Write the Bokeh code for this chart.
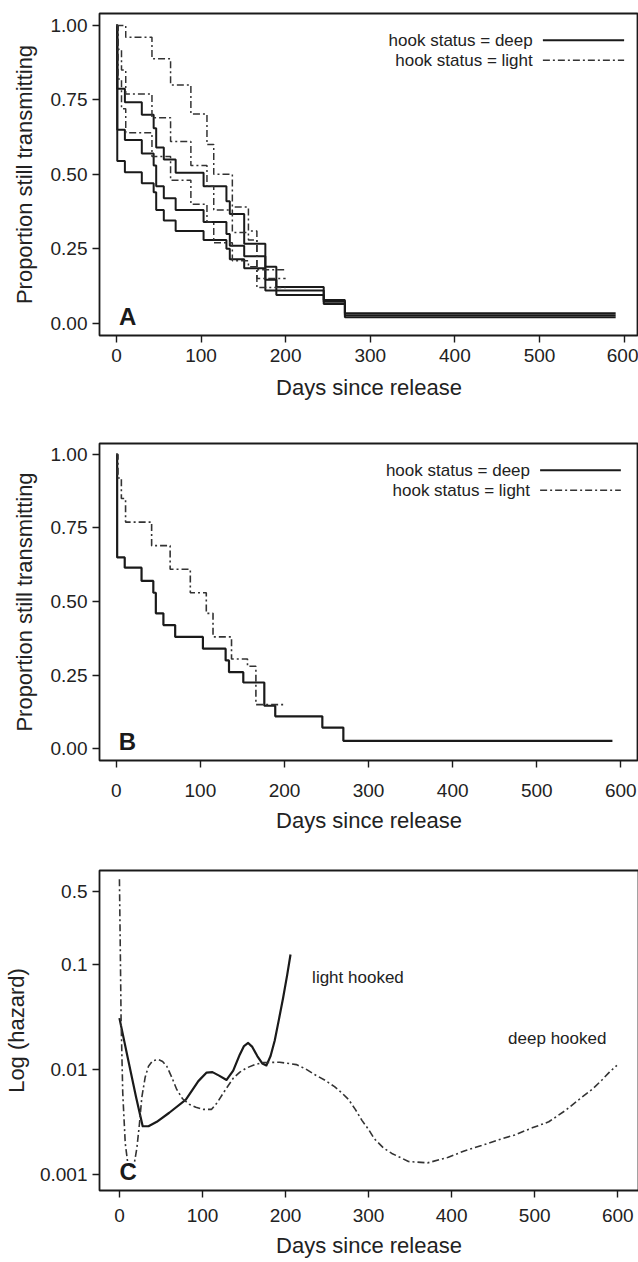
from bokeh.plotting import figure
from bokeh.layouts import column
from bokeh.models import Range1d, FixedTicker, Label, Arrow
from bokeh.embed import file_html
from bokeh.resources import INLINE

# ---------------- data: Kaplan-Meier curves (panels A and B) ----------------
deep_days = [0, 1, 10, 30, 44, 47, 56, 70, 103, 130, 134, 151, 176, 189, 245, 270, 590]
deep_est = [1.0, 0.65, 0.615, 0.57, 0.53, 0.46, 0.42, 0.38, 0.34, 0.30, 0.26, 0.225, 0.146, 0.11, 0.072, 0.027, 0.027]
deep_upper = [1.0, 0.787, 0.742, 0.70, 0.655, 0.59, 0.55, 0.505, 0.46, 0.41, 0.367, 0.267, 0.19, 0.122, 0.078, 0.034, 0.034]
deep_lower = [1.0, 0.545, 0.507, 0.47, 0.44, 0.38, 0.345, 0.31, 0.28, 0.25, 0.215, 0.185, 0.11, 0.095, 0.065, 0.02, 0.02]

light_days = [0, 2, 6, 11, 42, 64, 88, 107, 115, 137, 156, 166, 200]
light_est = [1.0, 0.92, 0.85, 0.77, 0.69, 0.61, 0.53, 0.46, 0.38, 0.305, 0.28, 0.15, 0.15]
light_upper = [1.0, 1.0, 1.0, 0.96, 0.888, 0.80, 0.703, 0.60, 0.50, 0.39, 0.31, 0.18, 0.18]
light_lower = [1.0, 0.82, 0.72, 0.64, 0.56, 0.48, 0.40, 0.34, 0.27, 0.21, 0.19, 0.12, 0.12]

# ---------------- data: smoothed hazards (panel C) ----------------
light_haz_days = [0, 10, 20, 28, 35, 45, 60, 80, 95, 105, 112, 120, 129, 137, 145, 150, 155, 160, 166,
                  172, 177, 182, 187, 192, 197, 202, 206]
light_haz = [0.031, 0.013, 0.0055, 0.0029, 0.0029, 0.0032, 0.0039, 0.0052, 0.0078, 0.0094, 0.0095, 0.0088,
             0.0080, 0.0098, 0.0140, 0.0168, 0.018, 0.0165, 0.0135, 0.0115, 0.011, 0.0135, 0.019, 0.030,
             0.048, 0.080, 0.125]
deep_haz_days = [0, 1, 2, 4, 7, 10, 14, 18, 21, 24, 27, 31, 35, 40, 47, 52, 57, 63, 69, 76, 84, 92, 101, 111,
                 118, 125, 137, 145, 153, 163, 173, 193, 213, 224, 235, 247, 259, 268, 276, 284, 292, 300,
                 307, 318, 328, 348, 371, 396, 416, 436, 456, 476, 497, 517, 537, 557, 570, 581, 590, 599]
deep_haz = [0.65, 0.15, 0.03, 0.006, 0.002, 0.0013, 0.0012, 0.0013, 0.0018, 0.003, 0.0055, 0.0085, 0.0108,
            0.0122, 0.0125, 0.0120, 0.0108, 0.0085, 0.0065, 0.0053, 0.0047, 0.0044, 0.0042, 0.0042, 0.0049,
            0.006, 0.0083, 0.0095, 0.0104, 0.0112, 0.0117, 0.0118, 0.0112, 0.0102, 0.009, 0.0080, 0.0069,
            0.0060, 0.0052, 0.0042, 0.0033, 0.0027, 0.0022, 0.0018, 0.0016, 0.00134, 0.0013, 0.00147,
            0.0017, 0.0019, 0.00215, 0.0024, 0.0028, 0.0032, 0.0041, 0.0055, 0.0066, 0.008, 0.0095, 0.011]

x_ticks = [0, 100, 200, 300, 400, 500, 600]
surv_ticks = [0.0, 0.25, 0.5, 0.75, 1.0]
surv_tick_labels = ["0.00", "0.25", "0.50", "0.75", "1.00"]
haz_ticks = [0.001, 0.01, 0.1, 0.5]
haz_tick_labels = ["0.001", "0.01", "0.1", "0.5"]
legend_labels = ["hook status = deep", "hook status = light"]

FONT = "Liberation Sans"
INK = "#1a1a1a"
TXT = "#222222"
DASHDOT = "7 3 2 3"


def style(p, xlabel, ylabel, tick_std, xlab_std, ylab_std):
    p.outline_line_color = INK
    p.outline_line_width = 1.8
    p.xgrid.visible = False
    p.ygrid.visible = False
    p.background_fill_color = "white"
    p.border_fill_color = "white"
    for ax in p.axis:
        ax.axis_line_color = None
        ax.major_tick_line_color = INK
        ax.major_tick_line_width = 1.4
        ax.minor_tick_line_color = None
        ax.major_tick_in = 0
        ax.major_tick_out = 7
        ax.major_label_text_font = FONT
        ax.major_label_text_font_size = "19px"
        ax.major_label_text_color = TXT
        ax.axis_label_text_font = FONT
        ax.axis_label_text_font_size = "22px"
        ax.axis_label_text_font_style = "normal"
        ax.axis_label_text_color = TXT
    p.xaxis.axis_label = xlabel
    p.yaxis.axis_label = ylabel
    p.xaxis.ticker = FixedTicker(ticks=x_ticks)
    p.xaxis.major_label_standoff = tick_std
    p.xaxis.axis_label_standoff = xlab_std
    p.yaxis.major_label_standoff = 5
    p.yaxis.axis_label_standoff = ylab_std


def add_legend(p, y1, y2):
    p.add_layout(Label(x=492, y=y1, text=legend_labels[0], text_align="right", text_baseline="middle",
                       text_font=FONT, text_font_size="17px", text_color=TXT))
    p.add_layout(Label(x=492, y=y2, text=legend_labels[1], text_align="right", text_baseline="middle",
                       text_font=FONT, text_font_size="17px", text_color=TXT))
    p.add_layout(Arrow(start=None, end=None, x_start=504, y_start=y1, x_end=600, y_end=y1,
                       line_color=INK, line_width=2))
    p.add_layout(Arrow(start=None, end=None, x_start=504, y_start=y2, x_end=600, y_end=y2,
                       line_color="#333333", line_width=1.6, line_dash=DASHDOT))


def letter(p, x, y, t):
    p.add_layout(Label(x=x, y=y, text=t, text_align="left", text_baseline="middle",
                       text_font=FONT, text_font_size="24px", text_font_style="bold", text_color=INK))


# ---------------- Panel A ----------------
pa = figure(frame_width=539, frame_height=322, min_border_left=98, min_border_right=1,
            min_border_top=13, min_border_bottom=75, x_range=Range1d(-20, 617),
            y_range=Range1d(-0.041, 1.040), output_backend="svg", toolbar_location=None)
style(pa, "Days since release", "Proportion still transmitting", 6, 10, 11)
pa.yaxis.ticker = FixedTicker(ticks=surv_ticks)
pa.yaxis.major_label_overrides = {t: l for t, l in zip(surv_ticks, surv_tick_labels)}
for ys in (deep_upper, deep_est, deep_lower):
    pa.step(deep_days, ys, mode="after", line_color=INK, line_width=2.0)
for ys in (light_upper, light_est, light_lower):
    pa.step(light_days, ys, mode="after", line_color="#333333", line_width=1.5, line_dash=DASHDOT)
add_legend(pa, 0.95, 0.883)
letter(pa, 3, 0.022, "A")

# ---------------- Panel B ----------------
pb = figure(frame_width=539, frame_height=317, min_border_left=98, min_border_right=1,
            min_border_top=33, min_border_bottom=80, x_range=Range1d(-20, 621),
            y_range=Range1d(-0.040, 1.037), output_backend="svg", toolbar_location=None)
style(pb, "Days since release", "Proportion still transmitting", 16, 8, 11)
pb.yaxis.ticker = FixedTicker(ticks=surv_ticks)
pb.yaxis.major_label_overrides = {t: l for t, l in zip(surv_ticks, surv_tick_labels)}
pb.step(deep_days, deep_est, mode="after", line_color=INK, line_width=2.2)
pb.step(light_days, light_est, mode="after", line_color="#333333", line_width=1.6, line_dash=DASHDOT)
add_legend(pb, 0.946, 0.878)
letter(pb, 3, 0.025, "B")

# ---------------- Panel C ----------------
pc = figure(frame_width=539, frame_height=320, min_border_left=98, min_border_right=1,
            min_border_top=30, min_border_bottom=72, x_range=Range1d(-24, 625),
            y_range=Range1d(0.00071, 0.787), y_axis_type="log",
            output_backend="svg", toolbar_location=None)
style(pc, "Days since release", "Log (hazard)", 11, 8, 8)
pc.yaxis.ticker = FixedTicker(ticks=haz_ticks)
pc.yaxis.major_label_overrides = {t: l for t, l in zip(haz_ticks, haz_tick_labels)}
pc.line(light_haz_days, light_haz, line_color=INK, line_width=2.2, line_join="round")
pc.line(deep_haz_days, deep_haz, line_color="#333333", line_width=1.6, line_dash=DASHDOT, line_join="round")
pc.add_layout(Label(x=232, y=0.075, text="light hooked", text_align="left", text_baseline="middle",
                    text_font=FONT, text_font_size="17px", text_color=TXT))
pc.add_layout(Label(x=468, y=0.020, text="deep hooked", text_align="left", text_baseline="middle",
                    text_font=FONT, text_font_size="17px", text_color=TXT))
letter(pc, 0, 0.00107, "C")

layout = column(pa, pb, pc, spacing=0)
open("out.html", "w").write(file_html(layout, INLINE))
